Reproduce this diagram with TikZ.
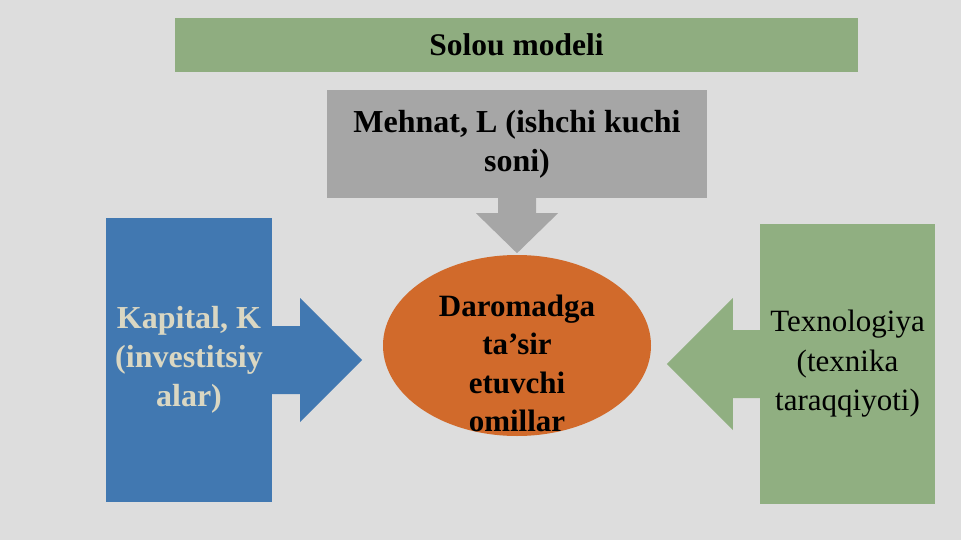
\documentclass[tikz,border=0pt]{standalone}
\usepackage{fontspec}
\setmainfont{Liberation Serif}
\usepackage{tikz}
\usetikzlibrary{positioning,calc,shapes.geometric}
\definecolor{slidebg}{HTML}{DDDDDD}
\definecolor{titlegreen}{HTML}{8FAD80}
\definecolor{labgray}{HTML}{A6A6A6}
\definecolor{kapblue}{HTML}{4178B1}
\definecolor{kaptext}{HTML}{DAD7C2}
\definecolor{ellorange}{HTML}{D16A2B}
\definecolor{texgreen}{HTML}{90AF81}

\begin{document}
\begin{tikzpicture}[x=1pt,y=-1pt]
      \tikzstyle{box}=[rectangle,inner sep=0pt,align=center]
      \tikzstyle{bigb}=[font=\bfseries\fontsize{32}{39}\selectfont]
      \fill[slidebg] (0,0) rectangle (961,540);
      \useasboundingbox (0,0) rectangle (961,540);
      % boxes
      \node[box,fill=titlegreen,minimum width=683pt,minimum height=54pt,
            font=\bfseries\fontsize{31.5}{36}\selectfont] (title) at (516.5,45) {Solou modeli};
      \node[box,bigb,fill=labgray,minimum width=380pt,minimum height=108pt] (meh) at (517,144) {Mehnat, L (ishchi kuchi\\soni)};
      \node[box,bigb,fill=kapblue,text=kaptext,minimum width=166pt,minimum height=284pt] (kap) at (189,360) {Kapital, K\\(investitsiy\\alar)};
      \node[box,fill=texgreen,minimum width=175pt,minimum height=280pt,
            font=\fontsize{31}{39.5}\selectfont] (tex) at (847.5,364) {Texnologiya\\(texnika\\taraqqiyoti)};
      \node[ellipse,fill=ellorange,inner sep=0pt,minimum width=268pt,minimum height=181pt] (ell) at (517,345.5) {};
      \node[box,font=\bfseries\fontsize{31}{38.3}\selectfont] (omil) at ($(ell.center)+(0,18)$) {Daromadga\\ta’sir\\etuvchi\\omillar};
      % block arrows
      \fill[labgray] ($(meh.south)+(-19,-2)$) -- ++(0,17) -- ++(-22,0) -- ($(meh.south)+(0,55)$) -- ($(meh.south)+(41,15)$) -- ++(-22,0) -- ($(meh.south)+(19,-2)$) -- cycle;
      \fill[kapblue] ($(kap.east)+(-2,-34)$) -- ++(30,0) -- ++(0,-28) -- ($(kap.east)+(90,0)$) -- ($(kap.east)+(28,62)$) -- ++(0,-28) -- ($(kap.east)+(-2,34)$) -- cycle;
      \fill[texgreen] ($(tex.west)+(2,-34)$) -- ++(-29,0) -- ++(0,-32) -- ($(tex.west)+(-93,0)$) -- ($(tex.west)+(-27,66)$) -- ++(0,-32) -- ($(tex.west)+(2,34)$) -- cycle;
    \end{tikzpicture}
\end{document}
